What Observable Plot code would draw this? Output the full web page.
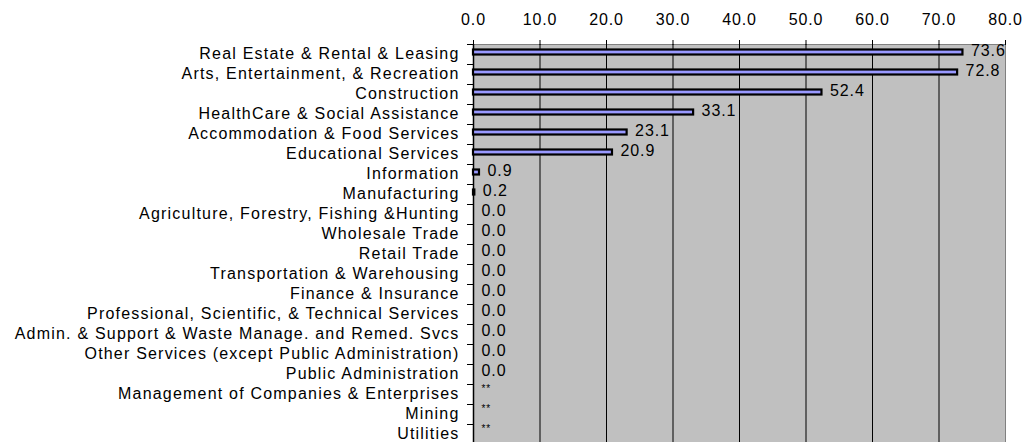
<!DOCTYPE html>
<html>
<head>
<meta charset="utf-8">
<script src="https://cdn.jsdelivr.net/npm/d3@7"></script>
<script src="https://cdn.jsdelivr.net/npm/@observablehq/plot@0.6"></script>
<style>
  html, body { margin: 0; padding: 0; background: #fff; overflow: hidden; }
</style>
</head>
<body>
<div id="chart"></div>
<script>
const categories = [
  "Real Estate & Rental & Leasing",
  "Arts, Entertainment, & Recreation",
  "Construction",
  "HealthCare & Social Assistance",
  "Accommodation & Food Services",
  "Educational Services",
  "Information",
  "Manufacturing",
  "Agriculture, Forestry, Fishing &Hunting",
  "Wholesale Trade",
  "Retail Trade",
  "Transportation & Warehousing",
  "Finance & Insurance",
  "Professional, Scientific, & Technical Services",
  "Admin. & Support & Waste Manage. and Remed. Svcs",
  "Other Services (except Public Administration)",
  "Public Administration",
  "Management of Companies & Enterprises",
  "Mining",
  "Utilities"
];
const values = [73.6, 72.8, 52.4, 33.1, 23.1, 20.9, 0.9, 0.2, 0.0, 0.0, 0.0, 0.0, 0.0, 0.0, 0.0, 0.0, 0.0, null, null, null];
const xTicks = [0, 10, 20, 30, 40, 50, 60, 70, 80];
const suppressedLabel = "**";

const data = categories.map((c, i) => ({category: c, value: values[i]}));
const shown = data.filter(d => d.value != null);
const suppressed = data.filter(d => d.value == null);

const chart = Plot.plot({
  width: 1028,
  height: 442,
  marginLeft: 473,
  marginRight: 23,
  marginTop: 44,
  marginBottom: -2,
  style: {fontFamily: "'Liberation Sans', Arial, sans-serif", fontSize: "16px", letterSpacing: "0.9px", background: "#fff", color: "#000"},
  x: {domain: [0, 80], axis: null, label: null},
  y: {domain: categories, padding: 0, axis: null, label: null},
  marks: [
    Plot.frame({fill: "#C0C0C0", stroke: "#808080"}),
    Plot.ruleX(xTicks.filter(d => d > 0 && d < 80), {stroke: "#000", strokeWidth: 1}),
    Plot.ruleX([0], {stroke: "#000", strokeWidth: 1.5}),
    Plot.axisX({anchor: "top", label: null, ticks: xTicks, tickFormat: d => d.toFixed(1), tickSize: 5, tickPadding: 15, stroke: "#000", fill: "#000"}),
    Plot.axisY({anchor: "left", label: null, tickSize: 0, tickPadding: 14, dy: -1, fill: "#000", style: {letterSpacing: "1.2px"}}),
    Plot.axisY({anchor: "left", label: null, tickSize: 6, text: null, dy: -10, stroke: "#000"}),
    Plot.barX(shown, {x: "value", y: "category", fill: "#9999FF", stroke: "#000", strokeWidth: 2.2, insetTop: 5.5, insetBottom: 9.5}),
    Plot.text(shown, {x: "value", y: "category", text: d => d.value.toFixed(1), textAnchor: "start", dx: 8, dy: -4, fill: "#000"}),
    Plot.text(suppressed, {x: () => 0, y: "category", text: () => suppressedLabel, textAnchor: "start", dx: 8, dy: -6, fontSize: 10, fill: "#000"})
  ]
});
chart.querySelectorAll('g[aria-label="y-axis tick label"]').forEach(g => g.setAttribute("letter-spacing", "1.2px"));
document.getElementById("chart").appendChild(chart);
</script>
</body>
</html>
